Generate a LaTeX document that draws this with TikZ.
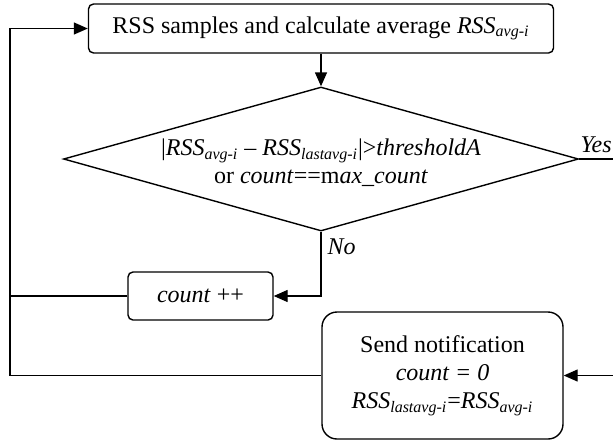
\documentclass[tikz,border=0pt]{standalone}
\usepackage{fontspec}
\setmainfont{Liberation Serif}
\usetikzlibrary{shapes.geometric,arrows.meta}

\begin{document}
\begin{tikzpicture}[x=0.5pt, y=-0.5pt, font=\fontsize{12}{14.2}\selectfont,
	box/.style={draw, line width=0.7pt, rounded corners=2.5pt, inner sep=0pt, align=center},
	flow/.style={line width=0.7pt, -{Triangle[length=7pt,width=6pt]}},
	link/.style={line width=0.7pt}]
	
		\newcommand{\xLoop}{10}
		\newcommand{\xEdge}{613}
		\newcommand{\yTop}{28.5}
		\newcommand{\yCond}{159}
		\newcommand{\yNote}{375.5}
		\useasboundingbox (0,0) rectangle (\xEdge,440);
	
	% boxes
	\node[box, minimum width=232.5pt, minimum height=24.5pt] (sample) at (321,\yTop) {RSS samples and calculate average \textit{RSS}\textsubscript{\textit{avg-i}}};
	\node[draw, diamond, line width=0.7pt, minimum width=257.5pt, minimum height=72pt, inner sep=0pt] (cond) at (321,\yCond) {};
	\node[align=center, yshift=-2pt] (condtext) at (cond) {|\textit{RSS}\textsubscript{\textit{avg-i}} -- \textit{RSS}\textsubscript{\textit{lastavg-i}}|>\textit{thresholdA}\\ or \textit{count}==m\textit{ax\_count}};
	\node[box, minimum width=72.5pt, minimum height=24pt] (inc) at (200.5,296) {\textit{count} ++};
	\node[box, rounded corners=7.5pt, minimum width=120.5pt, minimum height=63.5pt] (notify) at (442.5,\yNote) {Send notification\\ \textit{count = 0}\\ \textit{RSS}\textsubscript{\textit{lastavg-i}}=\textit{RSS}\textsubscript{\textit{avg-i}}};
	
	\coordinate (yesEnd) at (\xEdge,\yCond);
	\coordinate (noteIn) at (\xEdge,\yNote);
	\coordinate (loopTop) at (\xLoop,\yTop);
	
	% arrows
	\draw[flow] (sample) -- (cond);
	\draw[link] (cond.east) -- (yesEnd) node[midway, above, inner sep=3pt]{\textit{Yes}};
	\draw[flow] (cond.south) |- (inc.east) node[pos=0.12, right, inner sep=3pt]{\textit{No}};
	\draw[flow] (noteIn) -- (notify);
	\draw[link] (inc.west) -- (inc.west -| loopTop);
	\draw[flow] (notify.west) -| (loopTop) -- (sample.west);
	
	%\draw[red] (0,0) rectangle (\xEdge,440);
\end{tikzpicture}
\end{document}
